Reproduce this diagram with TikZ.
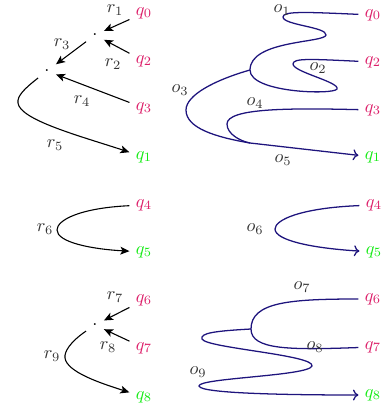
\documentclass[tikz,border=0pt]{standalone}
\usetikzlibrary{arrows.meta}
\definecolor{qmag}{RGB}{220,30,105}
\definecolor{qgrn}{RGB}{20,235,20}
\definecolor{navy}{RGB}{30,20,125}
\begin{document}
\begin{tikzpicture}[x=0.55pt,y=-0.55pt,
  qin/.style={text=qmag},
  qout/.style={text=qgrn},
  lab/.style={text=black!80, inner sep=1pt},
  dotn/.style={inner sep=3.33pt},
  larr/.style={draw=black, line width=0.6pt, -{Stealth[length=5pt,width=4.3pt,inset=1.2pt]}},
  rline/.style={draw=navy, line width=0.7pt},
  rarr/.style={draw=navy, line width=0.7pt, -{To[length=3pt,width=6pt]}}]
\useasboundingbox (0,0) rectangle (384,409);
% ---------- left, top ----------
\node[qin]  (lq0) at (144,13)  {$q_0$};
\node[qin]  (lq2) at (144,61)  {$q_2$};
\node[qin]  (lq3) at (144,108) {$q_3$};
\node[qout] (lq1) at (144,157) {$q_1$};
\node[dotn] (d1) at (95,35) {.};
\node[dotn] (d2) at (47,71) {.};
\draw[larr] (lq0) -- (d1);
\draw[larr] (lq2) -- (d1);
\draw[larr] (d1) -- (d2);
\draw[larr] (lq3) -- (d2);
\draw[larr] (d2) .. controls (24,89) and (17,96) .. (18,103) .. controls (20,120) and (80,136) .. (lq1);
\node[lab] (r1) at (115,10)  {$r_1$};
\node[lab] (r2) at (113,64)  {$r_2$};
\node[lab] (r3) at (62,44)   {$r_3$};
\node[lab] (r4) at (82,101)  {$r_4$};
\node[lab] (r5) at (55,145)  {$r_5$};
% ---------- right, top ----------
\node[qin]  (rq0) at (373,15)  {$q_0$};
\node[qin]  (rq2) at (373,62)  {$q_2$};
\node[qin]  (rq3) at (373,110) {$q_3$};
\node[qout] (rq1) at (373,157) {$q_1$};
\coordinate (j1) at (250,70);
\draw[rline] (rq0) .. controls (305,12) and (283,11) .. (283,17)
   .. controls (283,25) and (327,27) .. (326,35)
   .. controls (325,43) and (250,40) .. (j1);
\draw[rline] (rq2) .. controls (310,59) and (293,58) .. (293,64)
   .. controls (293,72) and (340,82) .. (337,89)
   .. controls (334,95) and (250,93) .. (j1);
\draw[rarr] (j1) .. controls (215,80) and (186,95) .. (186,110)
   .. controls (186,128) and (215,137) .. (250,143) -- (rq1);
\draw[rline] (rq3) .. controls (290,108) and (227,108) .. (227,124)
   .. controls (227,134) and (240,141) .. (250,143);
\node[lab] (o1) at (282,10)  {$o_1$};
\node[lab] (o2) at (318,68)  {$o_2$};
\node[lab] (o3) at (180,90)  {$o_3$};
\node[lab] (o4) at (255,103) {$o_4$};
\node[lab] (o5) at (283,160) {$o_5$};
% ---------- middle ----------
\node[qin]  (lq4) at (144,205) {$q_4$};
\node[qout] (lq5) at (144,252) {$q_5$};
\draw[larr] (lq4) .. controls (80,208) and (57,220) .. (57,230) .. controls (57,242) and (90,249) .. (lq5);
\node[lab] (r6) at (45,229) {$r_6$};
\node[qin]  (rq4) at (374,205) {$q_4$};
\node[qout] (rq5) at (374,252) {$q_5$};
\draw[rarr] (rq4) .. controls (300,208) and (275,220) .. (275,229) .. controls (275,240) and (310,248) .. (rq5);
\node[lab] (o6) at (255,229) {$o_6$};
% ---------- left, bottom ----------
\node[qin]  (lq6) at (144,300) {$q_6$};
\node[qin]  (lq7) at (144,348) {$q_7$};
\node[qout] (lq8) at (144,397) {$q_8$};
\node[dotn] (d3) at (95,325) {.};
\draw[larr] (lq6) -- (d3);
\draw[larr] (lq7) -- (d3);
\draw[larr] (d3) .. controls (70,342) and (64,352) .. (65,358) .. controls (67,372) and (100,383) .. (lq8);
\node[lab] (r7) at (115,297) {$r_7$};
\node[lab] (r8) at (108,347) {$r_8$};
\node[lab] (r9) at (52,356)  {$r_9$};
% ---------- right, bottom ----------
\node[qin]  (rq6) at (373,299) {$q_6$};
\node[qin]  (rq7) at (373,347) {$q_7$};
\node[qout] (rq8) at (373,395) {$q_8$};
\coordinate (j2) at (251,329);
\draw[rline] (rq6) .. controls (290,299) and (251,302) .. (j2);
\draw[rline] (rq7) .. controls (290,350) and (251,350) .. (j2);
\draw[rarr] (j2) .. controls (215,331) and (200,333) .. (202,339)
   .. controls (206,348) and (315,355) .. (312,366)
   .. controls (309,376) and (198,378) .. (199,386)
   .. controls (200,394) and (300,395) .. (rq8);
\node[lab] (o7) at (302,287) {$o_7$};
\node[lab] (o8) at (315,347) {$o_8$};
\node[lab] (o9) at (198,372) {$o_9$};
\end{tikzpicture}
\end{document}
